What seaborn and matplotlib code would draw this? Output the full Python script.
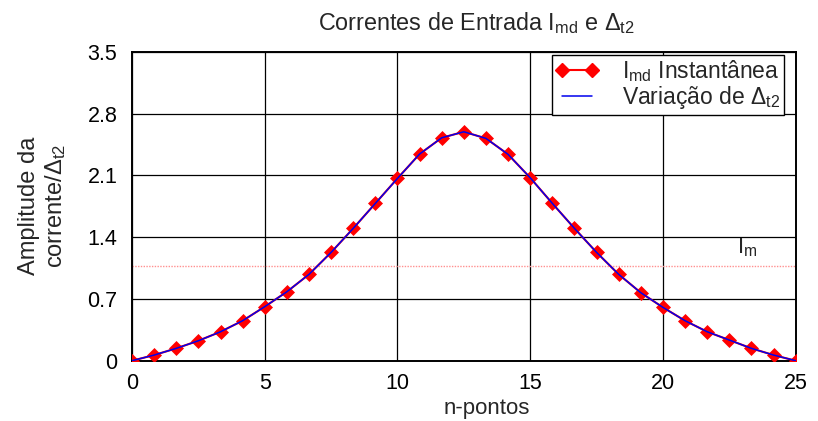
import numpy as np
import pandas as pd
import matplotlib
matplotlib.use("Agg")
import matplotlib.pyplot as plt
import seaborn as sns
from matplotlib.lines import Line2D

# ---- data ----
n_points = [i * 25 / 30 for i in range(31)]
imd_values = [0.0, 0.064, 0.14, 0.226, 0.328, 0.453, 0.612, 0.781, 0.978, 1.227,
              1.499, 1.782, 2.065, 2.341, 2.525, 2.593, 2.518, 2.337, 2.072, 1.782,
              1.499, 1.227, 0.978, 0.770, 0.604, 0.453, 0.328, 0.234, 0.14, 0.064, 0.0]
im_level = 1.07
x_ticks = [0, 5, 10, 15, 20, 25]
y_ticks = [0, 0.7, 1.4, 2.1, 2.8, 3.5]
y_tick_labels = ["0", "0.7", "1.4", "2.1", "2.8", "3.5"]

df = pd.DataFrame({"n": n_points, "imd": imd_values})

sns.set_theme(style="white")
plt.rcParams["font.family"] = ["Liberation Sans", "DejaVu Sans"]
plt.rcParams["mathtext.fontset"] = "custom"
plt.rcParams["mathtext.rm"] = "Liberation Sans"
plt.rcParams["mathtext.it"] = "Liberation Sans:italic"
plt.rcParams["mathtext.bf"] = "Liberation Sans:bold"

fig = plt.figure(figsize=(8.18, 4.21), dpi=100)
ax = fig.add_axes([0.1614, 0.1432, 0.9727 - 0.1614, 0.8772 - 0.1432])

# Im reference line
ax.axhline(im_level, color="#ff9090", lw=1.0, ls=(0, (1, 1)), zorder=2)

sns.lineplot(data=df, x="n", y="imd", ax=ax, color="red", lw=1.5,
             marker="D", markersize=6.8, markeredgecolor="red", markeredgewidth=0.5,
             markerfacecolor="red", zorder=3)
sns.lineplot(data=df, x="n", y="imd", ax=ax, color="#0000ee", lw=1.1, zorder=4)

ax.set_xlim(0, 25)
ax.set_ylim(0, 3.5)
ax.set_xticks(x_ticks)
ax.set_yticks(y_ticks)
ax.set_yticklabels(y_tick_labels)
ax.tick_params(axis="both", length=0, labelsize=15.5, colors="black")
ax.tick_params(axis="y", pad=10.5)
ax.tick_params(axis="x", pad=8.5)
ax.grid(True, color="black", lw=0.9)
for s in ax.spines.values():
    s.set_color("black")
    s.set_linewidth(1.4)

ax.set_xlabel("n-pontos", fontsize=16)
ax.xaxis.set_label_coords(0.535, -0.122)
ax.set_ylabel("Amplitude da\ncorrente/Δ$_{\\rm t2}$", fontsize=17, labelpad=14,
              linespacing=1.15)

ax.text(22.8, 1.15, "I$_{\\rm m}$", fontsize=16, ha="left", va="bottom")

fig.text(0.583, 0.945, "Correntes de Entrada I$_{\\rm md}$ e Δ$_{\\rm t2}$",
         fontsize=16.8, ha="center", va="center")

handles = [
    Line2D([], [], color="red", lw=1.5, marker="D", markersize=6.8,
           markerfacecolor="red", markeredgecolor="red"),
    Line2D([], [], color="#0000ee", lw=1.1),
]
leg = ax.legend(handles, ["I$_{\\rm md}$ Instantânea", "Variação de Δ$_{\\rm t2}$"],
                loc="upper right", bbox_to_anchor=(0.982, 0.99), fontsize=16.5,
                frameon=True, fancybox=False, framealpha=1, edgecolor="black",
                borderpad=0.15, handlelength=1.9, handletextpad=1.0,
                labelspacing=0.0, borderaxespad=0.0, numpoints=2,
                alignment="right")
leg.get_frame().set_linewidth(1.0)
leg._legend_box.align = "right"

fig.savefig("out.png", dpi=100)
